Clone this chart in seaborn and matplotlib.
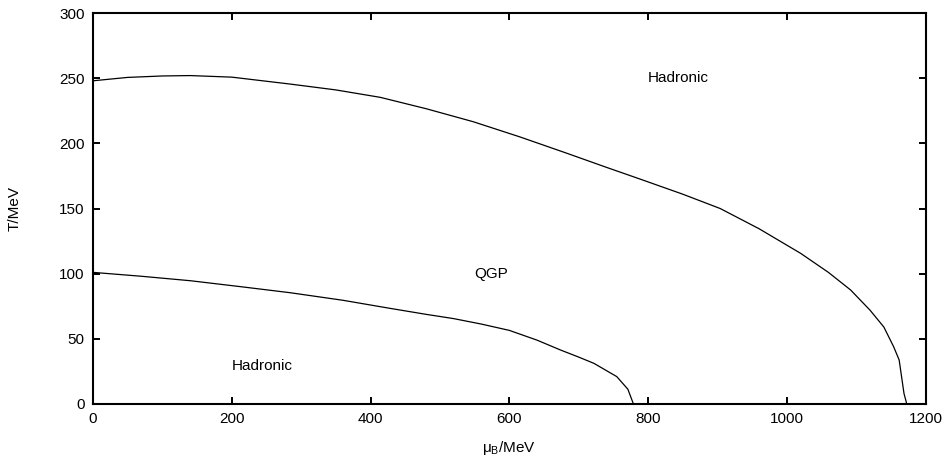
import pandas as pd
import matplotlib
matplotlib.use("Agg")
import matplotlib.pyplot as plt
import seaborn as sns

# outer boundary (upper curve)
mu_outer = [0, 50, 100, 140, 200, 284, 350, 414, 480, 548, 615, 683, 740, 789,
            850, 904, 960, 1020, 1060, 1092, 1120, 1140, 1154, 1162, 1169, 1173]
T_outer = [248, 250.6, 251.7, 252, 250.8, 245.5, 241, 235.3, 226.6, 216.6, 205,
           192.4, 181.6, 172.5, 161, 150, 134.5, 115.6, 101, 87.5, 72, 59, 44,
           33.8, 8, 0]

# inner boundary (lower curve)
mu_inner = [0, 70, 140, 210, 284, 360, 428, 480, 520, 560, 600, 640, 674, 700,
            722, 755, 771, 779]
T_inner = [101, 98, 94.6, 90.2, 85.4, 79.6, 73.4, 68.8, 65.5, 61.3, 56.5, 49,
           41.4, 36, 31.2, 21, 11.3, 0]

region_labels = ["Hadronic", "QGP", "Hadronic"]
label_mu = [800, 550, 200]
label_T = [250, 100, 29]


def main():
    df = pd.concat([
        pd.DataFrame({"mu": mu_outer, "T": T_outer, "curve": "outer"}),
        pd.DataFrame({"mu": mu_inner, "T": T_inner, "curve": "inner"}),
    ], ignore_index=True)

    sns.set_theme(style="ticks")
    plt.rcParams['font.family'] = ['Liberation Sans', 'DejaVu Sans']
    plt.rcParams['text.color'] = 'black'
    plt.rcParams['axes.labelcolor'] = 'black'

    fig = plt.figure(figsize=(9.51, 4.65), dpi=100)
    ax = fig.add_axes([0.0978, 0.1312, 0.8754, 0.8408])

    sns.lineplot(data=df, x="mu", y="T", units="curve", estimator=None,
                 sort=False, color="black", linewidth=0.9, ax=ax)

    for txt, x, y in zip(region_labels, label_mu, label_T):
        ax.text(x, y, txt, ha="left", va="center", fontsize=11, color="black")

    ax.set_xlim(0, 1200)
    ax.set_ylim(0, 300)
    ax.set_xticks(range(0, 1201, 200))
    ax.set_yticks(range(0, 301, 50))
    ax.tick_params(direction="in", length=5, width=1.4, top=True, right=True,
                   labelsize=11, pad=6, colors="black")
    for s in ax.spines.values():
        s.set_linewidth(1.5)
        s.set_color("black")

    ax.set_xlabel("μ$_{\\mathregular{B}}$/MeV", fontsize=11, labelpad=9)
    ax.set_ylabel("T/MeV", fontsize=11, labelpad=27)

    fig.savefig("out.png", dpi=100)


if __name__ == "__main__":
    main()
